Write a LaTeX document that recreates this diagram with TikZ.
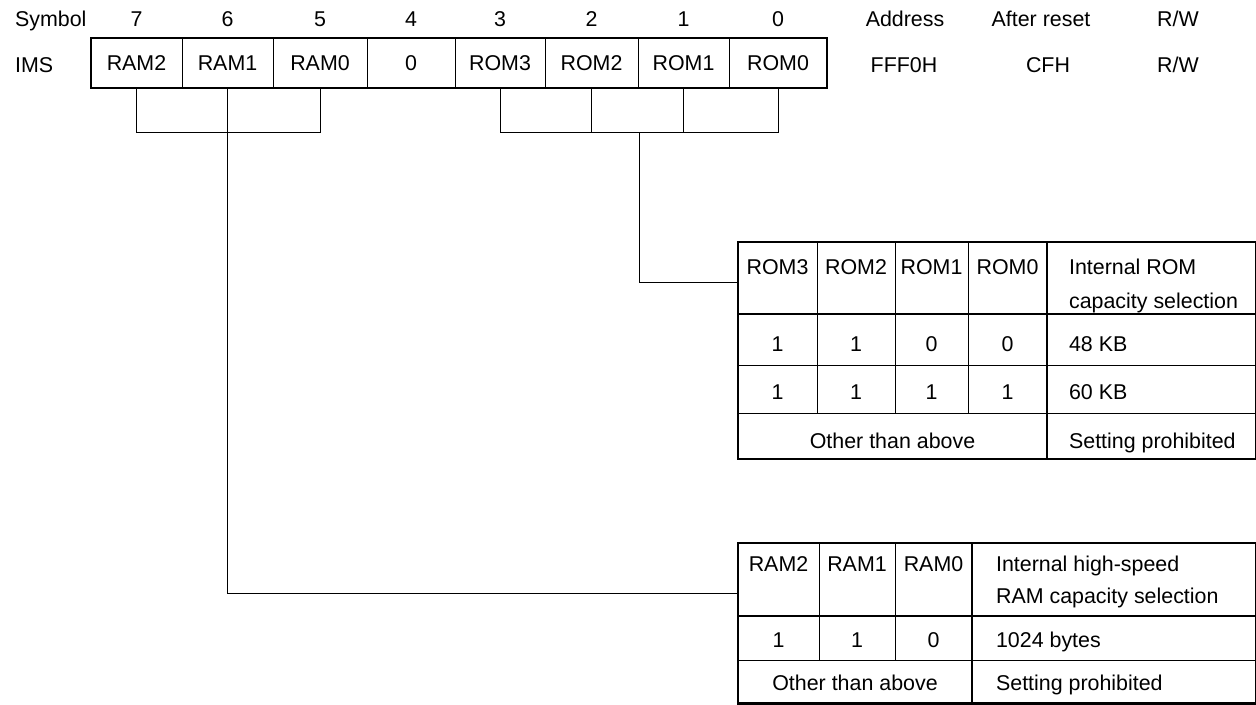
\documentclass[tikz,border=0pt]{standalone}
\usepackage{fontspec}
\setmainfont{Liberation Sans}
\usetikzlibrary{positioning}

\begin{document}
\begin{tikzpicture}[
			x=0.5pt, y=-0.5pt,
			font=\fontsize{10.7}{13}\selectfont,
			regcell/.style={draw, line width=0.5pt, minimum height=25pt, inner sep=0pt, outer sep=0pt},
			frame/.style={line width=1.35pt},
			rule/.style={line width=0.5pt},
			headrule/.style={line width=0.85pt},
			lbl/.style={anchor=base},
			lbll/.style={anchor=base west}
		]
			\useasboundingbox (0,0) rectangle (1256,705);

			% register IMS
			\node[regcell, minimum width=45.5pt, anchor=north west] (b7) at (91,38) {RAM2};
			\node[regcell, minimum width=45.5pt, right=0pt of b7] (b6) {RAM1};
			\node[regcell, minimum width=47pt, right=0pt of b6] (b5) {RAM0};
			\node[regcell, minimum width=44pt, right=0pt of b5] (b4) {0};
			\node[regcell, minimum width=45pt, right=0pt of b4] (b3) {ROM3};
			\node[regcell, minimum width=46.5pt, right=0pt of b3] (b2) {ROM2};
			\node[regcell, minimum width=45.5pt, right=0pt of b2] (b1) {ROM1};
			\node[regcell, minimum width=49pt, right=0pt of b1] (b0) {ROM0};
			\draw[frame] (b7.north west) rectangle (b0.south east);
			\foreach \n in {7,...,0}
				\node[lbl] (n\n) at (b\n.north |- 0,27) {\n};

			\node[lbll] (sym) at (8,27) {Symbol};
			\node[lbll] (ims) at (8,72.5) {IMS};
			\node[lbl] (addr) at (905,27) {Address};
			\node[lbl] (addrval) at (904,72.5) {FFF0H};
			\node[lbl] (reset) at (1041,27) {After reset};
			\node[lbl] (resetval) at (1048,72.5) {CFH};
			\node[lbl] (rw) at (1178,27) {R/W};
			\node[lbl] (rwval) at (1178,72.5) {R/W};

			% brackets
			\coordinate (rombar) at (639,132.5);
			\coordinate (romin) at (738,283);
			\coordinate (ramin) at (738,593);
			\draw[rule] (b7.south) |- (b5.south |- 0,132.5) -- (b5.south);
			\draw[rule] (b6.south) |- (ramin);
			\draw[rule] (b3.south) |- (b0.south |- 0,132.5) -- (b0.south);
			\draw[rule] (b2.south) -- (b2.south |- 0,132.5);
			\draw[rule] (b1.south) -- (b1.south |- 0,132.5);
			\draw[rule] (rombar) |- (romin);

			% ROM table
			\draw[rule] (738,365) -- (1256,365) (738,413) -- (1256,413);
			\draw[headrule] (738,314) -- (1256,314);
			\foreach \x in {817,895,968}
				\draw[rule] (\x,242) -- (\x,413);
			\draw[frame] (738,242) rectangle (1256,459) (1047,242) -- (1047,459);
			\foreach \x/\t/\a/\b [count=\i] in {777.5/ROM3/1/1, 856/ROM2/1/1, 931.5/ROM1/0/1, 1007.5/ROM0/0/1} {
				\node[lbl] (rh\i) at (\x,275) {\t};
				\node[lbl] (ra\i) at (\x,351) {\a};
				\node[lbl] (rb\i) at (\x,399.5) {\b};
			}
			\node[lbll] (romdesc) at (1062,275) {Internal ROM};
			\node[lbll] (romdesc2) at (1062,308) {capacity selection};
			\node[lbll] (rom48) at (1062,351) {48 KB};
			\node[lbll] (rom60) at (1062,399.5) {60 KB};
			\node[lbl] (romother) at (892.5,448) {Other than above};
			\node[lbll] (romprohib) at (1062,448) {Setting prohibited};

			% RAM table
			\draw[rule] (738,660) -- (1256,660);
			\draw[headrule] (738,616) -- (1256,616);
			\foreach \x in {819,895}
				\draw[rule] (\x,543) -- (\x,660);
			\draw[frame] (738,543) rectangle (1256,703.5) (972,543) -- (972,703.5);
			\foreach \x/\t/\a [count=\i] in {778.5/RAM2/1, 857/RAM1/1, 933.5/RAM0/0} {
				\node[lbl] (mh\i) at (\x,571) {\t};
				\node[lbl] (ma\i) at (\x,647.5) {\a};
			}
			\node[lbll] (ramdesc) at (989,571) {Internal high-speed};
			\node[lbll] (ramdesc2) at (989,603.5) {RAM capacity selection};
			\node[lbll] (ram1024) at (989,647.5) {1024 bytes};
			\node[lbl] (ramother) at (855,690) {Other than above};
			\node[lbll] (ramprohib) at (989,690) {Setting prohibited};
		\end{tikzpicture}
\end{document}
